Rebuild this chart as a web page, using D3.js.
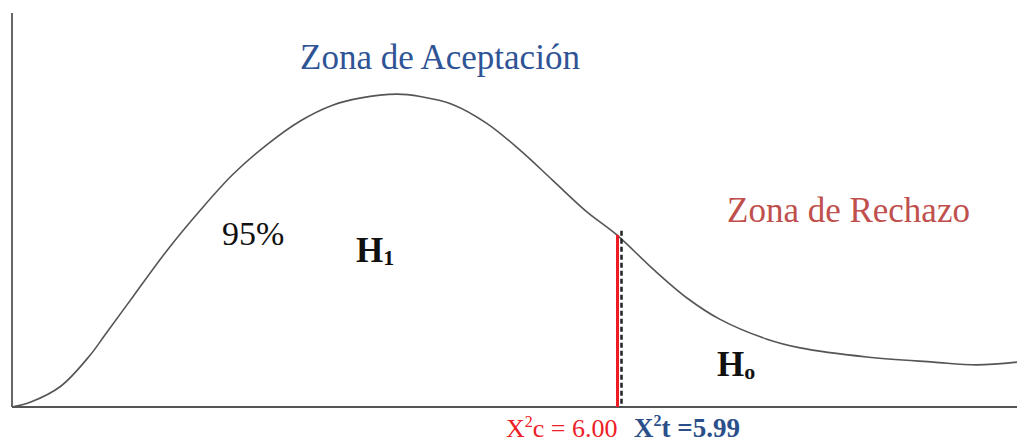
<!DOCTYPE html>
<html>
<head>
<meta charset="utf-8">
<script src="https://cdn.jsdelivr.net/npm/d3@7"></script>
<style>
  html,body{margin:0;padding:0;background:#fff;}
  svg{display:block;font-family:"Liberation Serif","Times New Roman",serif;}
</style>
</head>
<body>
<div id="chart"></div>
<script>
/* chi-square acceptance / rejection sketch */

// curve (x = chi² value, y = relative height)
const curveX = [0, 0.18, 0.48, 0.77, 0.92, 1.20, 1.54, 1.87, 2.19, 2.53, 2.86, 3.18, 3.45, 3.82,
                4.05, 4.37, 4.71, 5.04, 5.37, 5.70, 6.00, 6.36, 6.70, 7.02, 7.49, 7.82, 8.48, 9.14, 9.57, 9.97];
const curveY = [0, 1.2, 5.2, 13.0, 18.2, 28.0, 39.8, 50.0, 59.0, 66.6, 72.6, 76.6, 78.4, 79.4,
                78.8, 76.8, 72.0, 65.2, 57.4, 49.6, 43.7, 35.0, 27.6, 22.3, 17.2, 15.0, 12.7, 11.4, 10.7, 11.4];

const critC = 6.00;   // X²c
const critT = 5.99;   // X²t
const labelC = "c = 6.00";
const labelT = "t =5.99";

const W = 1017, H = 445;
const x = d3.scaleLinear().domain([0, 10]).range([12, 1020]);
const y = d3.scaleLinear().domain([0, 100]).range([407, 13]);

const svg = d3.select("#chart").append("svg").attr("width", W).attr("height", H);

/* axes (plain lines, no ticks) */
svg.append("line").attr("x1", x(0)).attr("x2", x(0)).attr("y1", y(100)).attr("y2", y(0))
   .attr("stroke", "#666").attr("stroke-width", 2);
svg.append("line").attr("x1", x(0)).attr("x2", W).attr("y1", y(0)).attr("y2", y(0))
   .attr("stroke", "#555").attr("stroke-width", 2);

/* curve */
const pts = curveX.map((v, i) => [v, curveY[i]]);
const line = d3.line().x(d => x(d[0])).y(d => y(d[1])).curve(d3.curveCatmullRom.alpha(0.5));
svg.append("path").attr("d", line(pts)).attr("fill", "none")
   .attr("stroke", "#555").attr("stroke-width", 1.6);

/* critical lines */
const topC = curveY[curveX.indexOf(critC)];
const xc = Math.round(x(critC)) + 0.5;
svg.append("line").attr("x1", xc).attr("x2", xc)
   .attr("y1", y(topC)).attr("y2", y(0))
   .attr("stroke", "#ee1c25").attr("stroke-width", 3);
// dashed line for X²t drawn just right of the red one, as in the figure
svg.append("line").attr("x1", xc + 4).attr("x2", xc + 4)
   .attr("y1", y(topC) - 4).attr("y2", y(0))
   .attr("stroke", "#222").attr("stroke-width", 2.5).attr("stroke-dasharray", "5,3");

/* labels */
svg.append("text").attr("x", 300).attr("y", 69).attr("font-size", 35)
   .attr("fill", "#2f5496").text("Zona de Aceptación");
svg.append("text").attr("x", 727).attr("y", 222).attr("font-size", 35)
   .attr("fill", "#c0504d").text("Zona de Rechazo");
svg.append("text").attr("x", 222).attr("y", 245).attr("font-size", 34)
   .attr("fill", "#111").text("95%");

const h1 = svg.append("text").attr("x", 356).attr("y", 262).attr("font-size", 35)
   .attr("font-weight", "bold").attr("fill", "#111");
h1.append("tspan").text("H");
h1.append("tspan").attr("font-size", 22).attr("dy", 3).text("1");

const h0 = svg.append("text").attr("x", 717).attr("y", 376).attr("font-size", 35)
   .attr("font-weight", "bold").attr("fill", "#111");
h0.append("tspan").text("H");
h0.append("tspan").attr("font-size", 22).attr("dy", 3).text("o");

const tc = svg.append("text").attr("x", 506).attr("y", 437).attr("font-size", 26)
   .attr("fill", "#ee2027");
tc.append("tspan").text("X");
tc.append("tspan").attr("font-size", 16).attr("dy", -10).text("2");
tc.append("tspan").attr("dy", 10).text(labelC);

const tt = svg.append("text").attr("x", 634).attr("y", 437).attr("font-size", 27)
   .attr("font-weight", "bold").attr("fill", "#2a4f8a");
tt.append("tspan").text("X");
tt.append("tspan").attr("font-size", 16).attr("dy", -11).text("2");
tt.append("tspan").attr("dy", 11).text(labelT);
</script>
</body>
</html>
